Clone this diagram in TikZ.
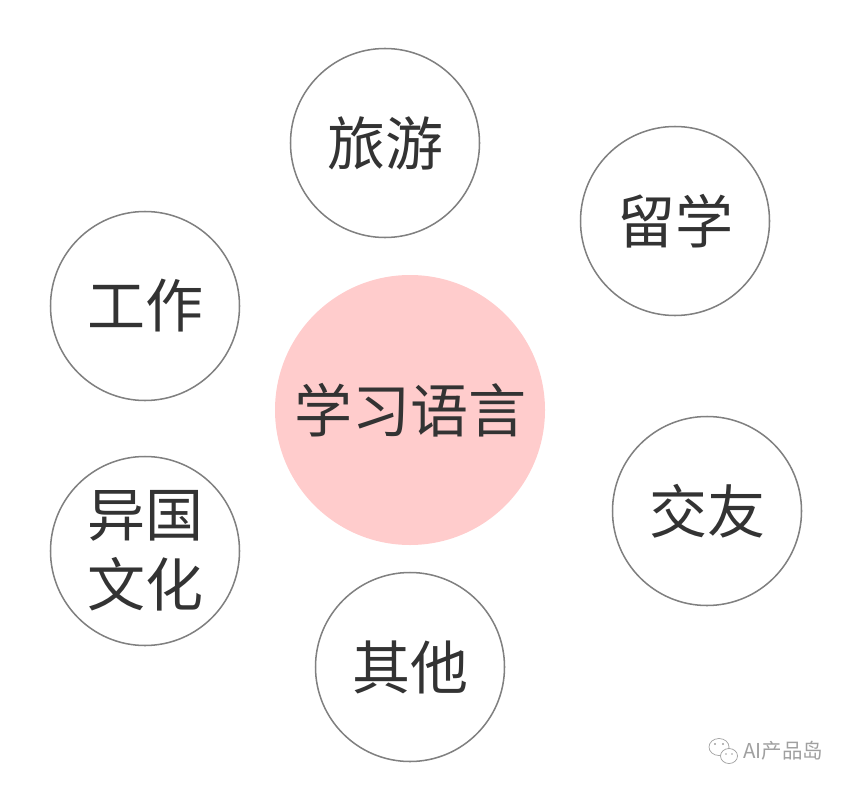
\documentclass[tikz,border=0pt]{standalone}
\usepackage{fontspec}
\setmainfont{Noto Sans CJK SC}
\definecolor{txtgray}{HTML}{333333}
\definecolor{ringgray}{HTML}{808080}
\definecolor{hubpink}{HTML}{FFCCCC}
\definecolor{markgray}{HTML}{A0A0A0}

\begin{document}
\begin{tikzpicture}[x=0.03cm,y=-0.03cm,
  topic/.style={circle,draw=ringgray,line width=1.3pt,minimum size=189*0.03cm,inner sep=0pt,
    text=txtgray,font=\fontsize{49.5}{56}\selectfont,align=center},
  hub/.style={circle,fill=hubpink,minimum size=270*0.03cm,inner sep=0pt,
    text=txtgray,font=\fontsize{49.5}{56}\selectfont}]
 \useasboundingbox (0,0) rectangle (851,789);
 \node [hub] (lang) at (410,410) {学习语言};
 \node [topic] (travel) at (385,143) {旅游};
 \node [topic] (study) at (675,221) {留学};
 \node [topic] (work) at (145,306) {工作};
 \node [topic] (friends) at (707,511) {交友};
 \node [topic, font=\fontsize{49.5}{60}\selectfont] (culture) at (145,551) {异国\\文化};
 \node [topic] (other) at (410,667) {其他};
 % watermark
 \draw [markgray, line width=0.6pt] (719,747) ellipse (10 and 8.5);
 \draw [markgray, line width=0.6pt, fill=white] (729,756) ellipse (8.5 and 7.5);
 \fill [markgray] (715,744) circle (1.1) (723,744) circle (1.1)
   (726,754) circle (0.9) (732,754) circle (0.9);
 \node [text=markgray, font=\fontsize{17.5}{20}\selectfont, anchor=west, inner sep=0pt] (mark) at (743,751) {AI产品岛};
\end{tikzpicture}
\end{document}
